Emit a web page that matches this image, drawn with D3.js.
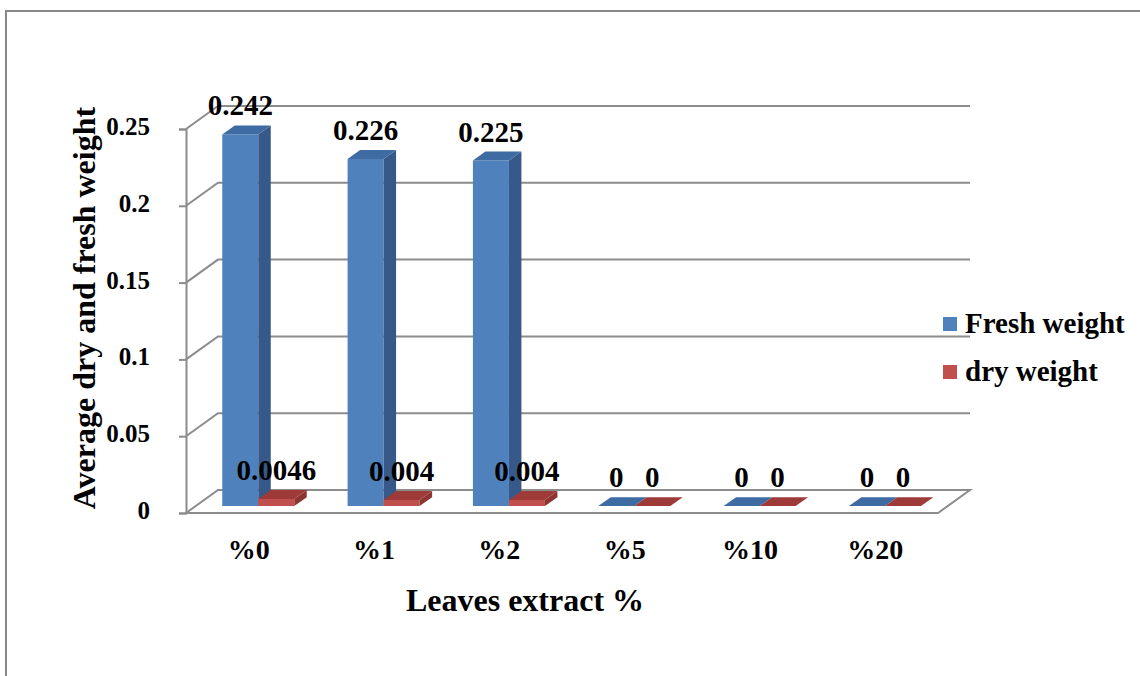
<!DOCTYPE html>
<html><head><meta charset="utf-8">
<script src="https://cdn.jsdelivr.net/npm/d3@7"></script>
<style>body{margin:0;background:#fff}svg{display:block}</style>
</head><body><svg id="c" width="1140" height="676"></svg>
<script>
const categories = ["%0","%1","%2","%5","%10","%20"];
const seriesNames = ["Fresh weight","dry weight"];
const freshWeight = [0.242,0.226,0.225,0,0,0];
const dryWeight = [0.0046,0.004,0.004,0,0,0];
const freshLabels = ["0.242","0.226","0.225","0","0","0"];
const dryLabels = ["0.0046","0.004","0.004","0","0","0"];
const yTicks = [0,0.05,0.1,0.15,0.2,0.25];
const yTickLabels = ["0","0.05","0.1","0.15","0.2","0.25"];
const xTitle = "Leaves extract %";
const yTitle = "Average dry and fresh weight";

const FONT = "'Liberation Serif','Times New Roman',serif";
const X0 = 186, X1 = 938, Y0 = 513, YT = 129, DX = 32, DY = 23;
const zB = 0.3, zF = 0.69;
const GRID = "#8c8c8c";
const colors = {
  "Fresh weight": {front:"#4f81bd", top:"#3f6ba3", side:"#36598a", legend:"#4f81bd"},
  "dry weight":   {front:"#c0504d", top:"#9e3b38", side:"#8c3533", legend:"#c0504d"}
};

const svg = d3.select("#c");
svg.append("rect").attr("width",1140).attr("height",676).attr("fill","#fff");
// outer border
svg.append("line").attr("x1",5).attr("x2",1140).attr("y1",11).attr("y2",11).attr("stroke","#888").attr("stroke-width",2);
svg.append("line").attr("x1",6).attr("x2",6).attr("y1",11).attr("y2",676).attr("stroke","#888").attr("stroke-width",2);

const x = d3.scaleBand().domain(categories).range([X0, X1]);
const x1 = d3.scaleBand().domain(seriesNames).range([0, x.bandwidth()]).paddingInner(0).paddingOuter(0.74);
const y = d3.scaleLinear().domain([0,0.25]).range([Y0, YT]);
const P = (px, py, z) => [px + z*DX, py - z*DY];

// back-wall gridlines
const gl = svg.append("g");
yTicks.filter(t => t > 0).forEach(t => {
  const a = P(X0, y(t), 0), b = P(X0, y(t), 1), c = P(X1, y(t), 1);
  gl.append("path").attr("d", d3.line()([a,b,c])).attr("fill","none").attr("stroke",GRID).attr("stroke-width",2);
});
// floor
const floorPts = [P(X0,y(0),0), P(X1,y(0),0), P(X1,y(0),1), P(X0,y(0),1)];
gl.append("path").attr("d", d3.line()(floorPts) + "Z").attr("fill","#fff").attr("stroke",GRID).attr("stroke-width",2);

// front axis
const axis = d3.axisLeft(y).tickValues(yTicks).tickSize(7).tickPadding(29)
  .tickFormat((d,i) => yTickLabels[yTicks.indexOf(d)]);
const ag = svg.append("g").attr("transform",`translate(${X0},0)`).call(axis);
ag.selectAll("path.domain").attr("stroke",GRID).attr("stroke-width",2);
ag.selectAll(".tick line").attr("stroke",GRID).attr("stroke-width",2);
ag.selectAll(".tick text").attr("font-family",FONT).attr("font-size",25).attr("font-weight","bold").attr("fill","#000").attr("dy","0.22em");

// bars
const data = seriesNames.map((s, si) => ({name:s, values: si === 0 ? freshWeight : dryWeight, labels: si === 0 ? freshLabels : dryLabels}));
const bars = svg.append("g");
categories.forEach((cat, ci) => {
  data.forEach(ser => {
    const v = ser.values[ci];
    const xl = x(cat) + x1(ser.name), xr = xl + x1.bandwidth();
    const col = colors[ser.name];
    const ftl = P(xl, y(v), zB), ftr = P(xr, y(v), zB), fbl = P(xl, y(0), zB), fbr = P(xr, y(0), zB);
    const btl = P(xl, y(v), zF), btr = P(xr, y(v), zF), bbr = P(xr, y(0), zF);
    if (v > 0) {
      bars.append("path").attr("d", d3.line()([ftl, ftr, fbr, fbl]) + "Z").attr("fill", col.front);
      bars.append("path").attr("d", d3.line()([ftr, btr, bbr, fbr]) + "Z").attr("fill", col.side);
    }
    bars.append("path").attr("d", d3.line()([ftl, ftr, btr, btl]) + "Z").attr("fill", col.top);
  });
});

// data labels
const lg = svg.append("g");
categories.forEach((cat, ci) => {
  data.forEach(ser => {
    const v = ser.values[ci];
    const xc = x(cat) + x1(ser.name) + x1.bandwidth()/2 + zB*DX;
    lg.append("text").attr("x", xc).attr("y", y(v) - zB*DY - 19)
      .attr("text-anchor","middle").attr("font-family",FONT).attr("font-size",29).attr("font-weight","bold")
      .text(ser.labels[ci]);
  });
});

// category labels
svg.append("g").selectAll("text").data(categories).join("text")
  .attr("x", d => x(d) + x.bandwidth()/2).attr("y", 559)
  .attr("text-anchor","middle").attr("font-family",FONT).attr("font-size",28).attr("font-weight","bold")
  .text(d => d);

// axis titles
svg.append("text").attr("x", 525).attr("y", 611).attr("text-anchor","middle")
  .attr("font-family",FONT).attr("font-size",32).attr("font-weight","bold").text(xTitle);
svg.append("text").attr("transform","translate(95,308) rotate(-90)").attr("text-anchor","middle")
  .attr("font-family",FONT).attr("font-size",32).attr("font-weight","bold").text(yTitle);

// legend
const leg = svg.append("g");
seriesNames.forEach((s, i) => {
  const yy = 317 + i*48;
  leg.append("rect").attr("x",943).attr("y",yy).attr("width",14).attr("height",14).attr("fill",colors[s].legend);
  leg.append("text").attr("x",965).attr("y",yy+16).attr("font-family",FONT).attr("font-size",29).attr("font-weight","bold").text(s);
});
</script></body></html>
